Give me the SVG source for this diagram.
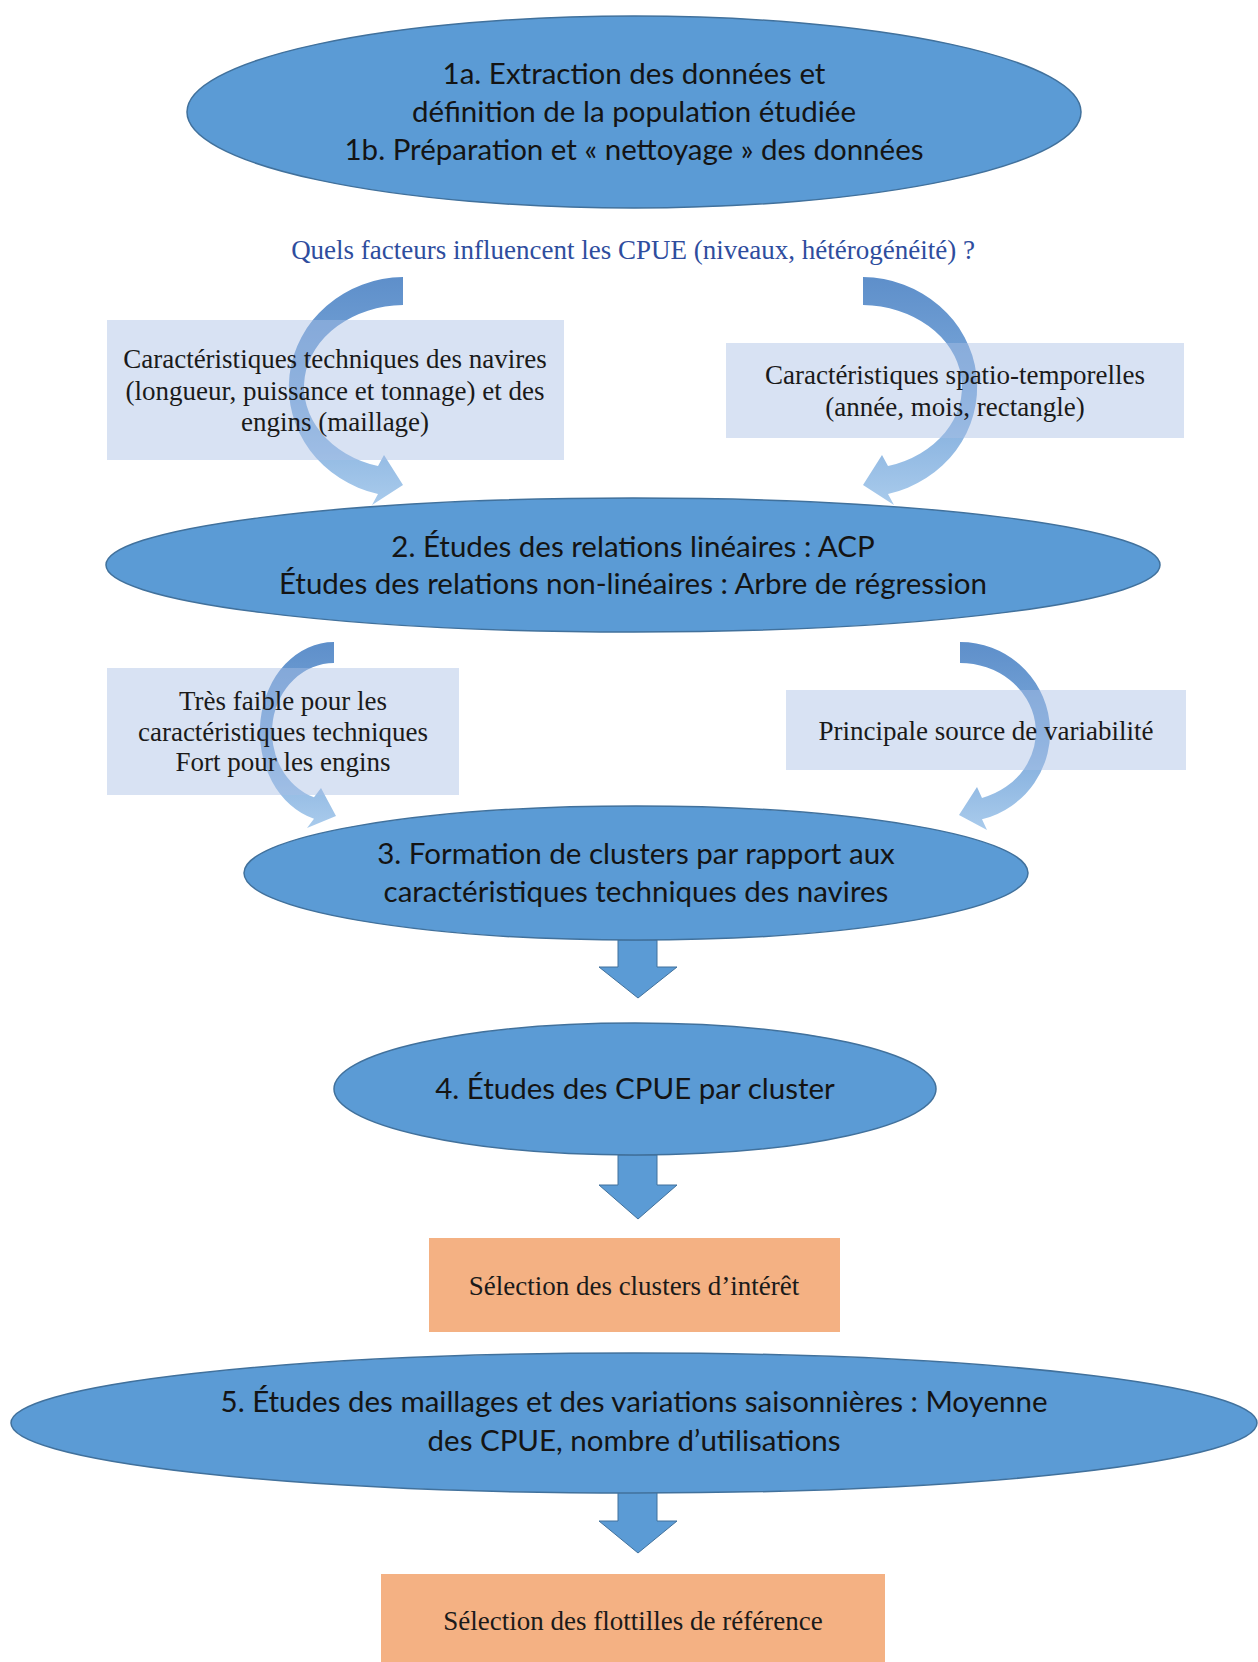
<svg xmlns="http://www.w3.org/2000/svg" width="1258" height="1662" viewBox="0 0 1258 1662">
<defs>
<linearGradient id="cg" x1="0" y1="0" x2="0" y2="1">
<stop offset="0" stop-color="#5E8FCA"/>
<stop offset="0.5" stop-color="#7BA8DA"/>
<stop offset="1" stop-color="#A9CBEC"/>
</linearGradient>
<style>
.ell{fill:#5B9BD5;stroke:#41719C;stroke-width:1.5}
.et{font-family:Lato,"Open Sans",sans-serif;font-size:29.5px;fill:#141414;text-anchor:middle}
.lb{fill:#A9BFE5;fill-opacity:0.45}
.bt{font-family:"Liberation Serif","Times New Roman",serif;font-size:27px;fill:#1a1a1a;text-anchor:middle}
.ob{fill:#F4B183}
.ot{font-family:"Liberation Serif","Times New Roman",serif;font-size:27px;fill:#1a1a1a;text-anchor:middle}
.q{font-family:"Liberation Serif","Times New Roman",serif;font-size:27px;fill:#2E4D9E;text-anchor:middle}
.ca{fill:url(#cg)}
.da{fill:#5B9BD5;stroke:#41719C;stroke-width:1}
</style>
</defs>
<rect width="1258" height="1662" fill="#FFFFFF"/>

<g id="connectors">
<path class="ca" d="M403 277 A116 110 0 0 0 378 494 L372 505 L403 485 L384 455 L378 466 A101 82 0 0 1 403 305 Z"/>
<path class="ca" transform="translate(1266,0) scale(-1,1)" d="M403 277 A116 110 0 0 0 378 494 L372 505 L403 485 L384 455 L378 466 A101 82 0 0 1 403 305 Z"/>
<path class="ca" d="M334 642 A74 90 0 0 0 314 818.7 L307 828 L336 816 L321 788 L314 797.3 A62 69 0 0 1 334 663 Z"/>
<path class="ca" d="M960 642 A90 90 0 0 1 982 819.3 L987 830 L959 815 L977 787 L982 798 A76 69 0 0 0 960 663 Z"/>
<path class="da" d="M618 940 H657 V967 H677 L638 998 L599 967 H618 Z"/>
<path class="da" d="M618 1155 H657 V1185 H677 L638 1219 L599 1185 H618 Z"/>
<path class="da" d="M618 1492 H657 V1521 H677 L638 1553 L599 1521 H618 Z"/>
</g>

<g id="node1">
<ellipse class="ell" cx="634" cy="112" rx="447" ry="96"/>
<text class="et" x="634" y="84">1a. Extraction des données et</text>
<text class="et" x="634" y="122">définition de la population étudiée</text>
<text class="et" x="634" y="160">1b. Préparation et « nettoyage » des données</text>
</g>

<g id="question">
<text class="q" x="633" y="259">Quels facteurs influencent les CPUE (niveaux, hétérogénéité) ?</text>
</g>

<g id="box-tech">
<rect class="lb" x="107" y="320" width="457" height="140"/>
<text class="bt" x="335" y="368">Caractéristiques techniques des navires</text>
<text class="bt" x="335" y="400">(longueur, puissance et tonnage) et des</text>
<text class="bt" x="335" y="431">engins (maillage)</text>
</g>

<g id="box-spatio">
<rect class="lb" x="726" y="343" width="458" height="95"/>
<text class="bt" x="955" y="384">Caractéristiques spatio-temporelles</text>
<text class="bt" x="955" y="416">(année, mois, rectangle)</text>
</g>

<g id="node2">
<ellipse class="ell" cx="633" cy="565" rx="527" ry="67"/>
<text class="et" x="633" y="557">2. Études des relations linéaires : ACP</text>
<text class="et" x="633" y="594">Études des relations non-linéaires : Arbre de régression</text>
</g>

<g id="box-faible">
<rect class="lb" x="107" y="668" width="352" height="127"/>
<text class="bt" x="283" y="710">Très faible pour les</text>
<text class="bt" x="283" y="741">caractéristiques techniques</text>
<text class="bt" x="283" y="771">Fort pour les engins</text>
</g>

<g id="box-source">
<rect class="lb" x="786" y="690" width="400" height="80"/>
<text class="bt" x="986" y="740">Principale source de variabilité</text>
</g>

<g id="node3">
<ellipse class="ell" cx="636" cy="873" rx="392" ry="67"/>
<text class="et" x="636" y="864">3. Formation de clusters par rapport aux</text>
<text class="et" x="636" y="902">caractéristiques techniques des navires</text>
</g>

<g id="node4">
<ellipse class="ell" cx="635" cy="1089" rx="301" ry="66"/>
<text class="et" x="635" y="1099">4. Études des CPUE par cluster</text>
</g>

<g id="box-clusters">
<rect class="ob" x="429" y="1238" width="411" height="94"/>
<text class="ot" x="634" y="1295">Sélection des clusters d’intérêt</text>
</g>

<g id="node5">
<ellipse class="ell" cx="634" cy="1423" rx="623" ry="70"/>
<text class="et" x="634" y="1412">5. Études des maillages et des variations saisonnières : Moyenne</text>
<text class="et" x="634" y="1451">des CPUE, nombre d’utilisations</text>
</g>

<g id="box-flottilles">
<rect class="ob" x="381" y="1574" width="504" height="100"/>
<text class="ot" x="633" y="1630">Sélection des flottilles de référence</text>
</g>
</svg>
